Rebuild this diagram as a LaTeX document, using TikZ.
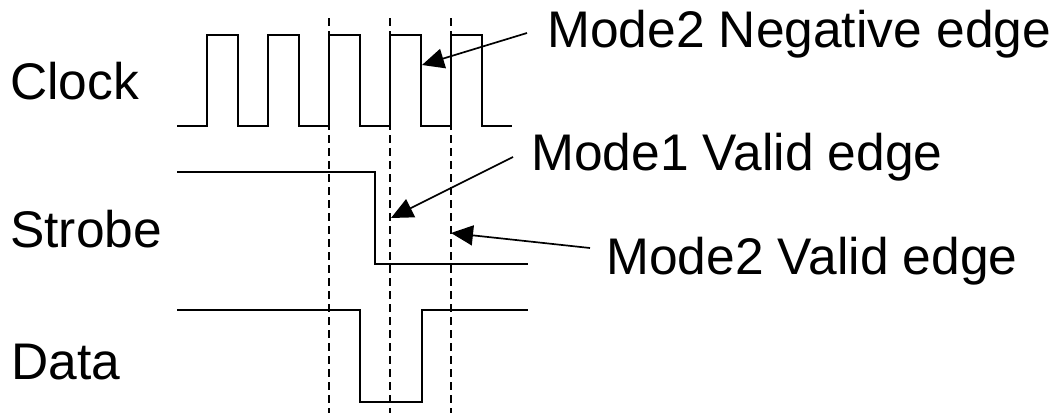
\documentclass[tikz,border=0pt]{standalone}
\usepackage{fontspec}
\setmainfont{Liberation Sans}
\usepackage{tikz}
\usetikzlibrary{arrows.meta}

\begin{document}
\begin{tikzpicture}[
  x=1pt, y=-1pt,
  font=\fontsize{51.5}{60}\selectfont,
  signame/.style={anchor=base west, inner sep=0pt},
  wave/.style={line width=2pt, line join=miter},
  marker/.style={line width=1.6pt, dash pattern=on 8pt off 5pt},
  pointer/.style={-{Triangle[length=22pt, width=20pt]}, line width=1.7pt}
]
\useasboundingbox (0,0) rectangle (1054,413);

% signal names
\node[signame] (clk) at (10,99) {Clock};
\node[signame] (stb) at (10,247) {Strobe};
\node[signame] (dat) at (11,379) {Data};

% clock
\draw[wave] (177,126)
  \foreach \k in {0,...,4} {
    -- ({207+61*\k},126) -- ({207+61*\k},35)
    -- ({238+61*\k},35) -- ({238+61*\k},126)
  } -- (512,126);

% strobe
\draw[wave] (177,172) -- (375,172) -- (375,264) -- (528,264);

% data
\draw[wave] (177,310) -- (360,310) -- (360,402) -- (422,402)
  -- (422,310) -- (528,310);

% edge markers
\foreach \x in {329,390,451}
  \draw[marker] (\x,18) -- (\x,413);

% annotations
\node[signame] (negedge) at (547,47) {Mode2 Negative edge};
\node[signame] (valid1) at (531,170) {Mode1 Valid edge};
\node[signame] (valid2) at (606,274) {Mode2 Valid edge};

\coordinate (negtail) at (527,33);
\coordinate (negtip) at (422,65);
\coordinate (v1tail) at (513,157);
\coordinate (v1tip) at (391,218);
\coordinate (v2tail) at (590,248);
\coordinate (v2tip) at (451,233);

\draw[pointer] (negtail) -- (negtip);
\draw[pointer] (v1tail) -- (v1tip);
\draw[pointer] (v2tail) -- (v2tip);

\end{tikzpicture}
\end{document}
